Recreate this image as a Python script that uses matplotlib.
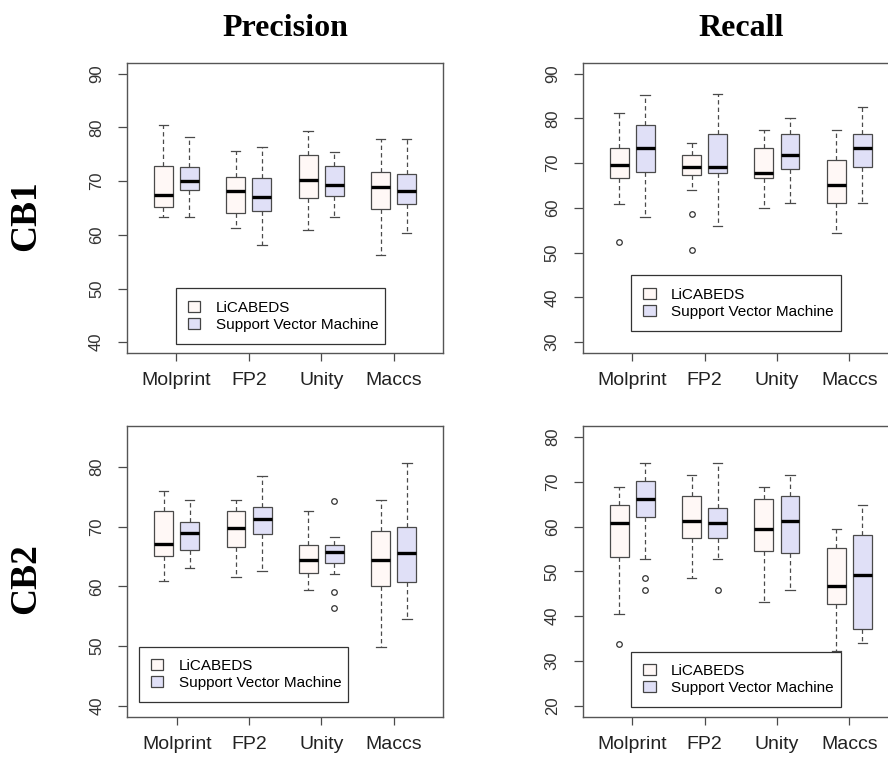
import matplotlib
matplotlib.use("Agg")
import matplotlib.pyplot as plt
from matplotlib.patches import Patch

methods = ["Molprint", "FP2", "Unity", "Maccs"]
series = ["LiCABEDS", "Support Vector Machine"]

# each box: (lower whisker, Q1, median, Q3, upper whisker)
prec_cb1_lic = [[63.3, 65.2, 67.4, 72.8, 80.4], [61.3, 64.1, 68.1, 70.8, 75.7],
                [60.9, 66.8, 70.2, 74.9, 79.3], [56.3, 64.9, 69.0, 71.7, 77.8]]
prec_cb1_svm = [[63.3, 68.3, 70.1, 72.6, 78.2], [58.1, 64.5, 67.0, 70.5, 76.4],
                [63.3, 67.2, 69.3, 72.8, 75.5], [60.4, 65.7, 68.1, 71.4, 77.8]]
prec_cb1_lic_out = [[], [], [], []]
prec_cb1_svm_out = [[], [], [], []]

rec_cb1_lic = [[60.8, 66.8, 69.6, 73.5, 81.2], [64.1, 67.3, 69.2, 71.9, 74.6],
               [60.0, 66.7, 67.9, 73.3, 77.4], [54.5, 61.2, 65.2, 70.7, 77.4]]
rec_cb1_svm = [[58.0, 68.1, 73.5, 78.6, 85.2], [56.0, 67.9, 69.2, 76.5, 85.4],
               [61.2, 68.6, 71.9, 76.5, 80.0], [61.2, 69.2, 73.3, 76.5, 82.6]]
rec_cb1_lic_out = [[52.5], [58.6, 50.6], [], []]
rec_cb1_svm_out = [[], [], [], []]

prec_cb2_lic = [[60.9, 65.0, 67.0, 72.6, 76.0], [61.6, 66.6, 69.7, 72.6, 74.5],
                [59.4, 62.3, 64.4, 66.9, 72.6], [49.9, 60.0, 64.4, 69.3, 74.5]]
prec_cb2_svm = [[63.1, 66.0, 68.9, 70.8, 74.5], [62.6, 68.7, 71.3, 73.2, 78.4],
                [62.1, 63.9, 65.7, 66.9, 68.2], [54.6, 60.8, 65.6, 70.0, 80.6]]
prec_cb2_lic_out = [[], [], [], []]
prec_cb2_svm_out = [[], [], [74.2, 59.1, 56.3], []]

rec_cb2_lic = [[40.4, 53.3, 60.7, 64.8, 68.9], [48.6, 57.5, 61.3, 66.8, 71.5],
               [43.2, 54.6, 59.4, 66.1, 68.9], [32.3, 42.7, 46.7, 55.3, 59.4]]
rec_cb2_svm = [[52.8, 62.1, 66.1, 70.1, 74.2], [52.8, 57.5, 60.7, 64.2, 74.2],
               [45.8, 54.1, 61.3, 66.8, 71.5], [34.1, 37.2, 49.3, 58.1, 64.8]]
rec_cb2_lic_out = [[33.8], [], [], []]
rec_cb2_svm_out = [[48.6, 45.8], [45.8], [], []]

LIC_COLOR = "#fff8f6"
SVM_COLOR = "#e0e0f7"
EDGE = "#4a4a4a"


def make_stats(rows, outliers):
    stats = []
    for (lo, q1, med, q3, hi), fl in zip(rows, outliers):
        stats.append({"whislo": lo, "q1": q1, "med": med, "q3": q3,
                      "whishi": hi, "fliers": fl})
    return stats


def panel(ax, lic, svm, lic_out, svm_out, ylim, yticks, leg_box):
    pos = list(range(1, len(methods) + 1))
    for rows, outs, color, shift in [(lic, lic_out, LIC_COLOR, -0.18),
                                     (svm, svm_out, SVM_COLOR, 0.18)]:
        ax.bxp(make_stats(rows, outs), positions=[p + shift for p in pos],
               widths=0.26, patch_artist=True, manage_ticks=False,
               boxprops=dict(facecolor=color, edgecolor=EDGE, linewidth=0.9),
               medianprops=dict(color="black", linewidth=2.4, solid_capstyle="butt"),
               whiskerprops=dict(color=EDGE, linewidth=0.9, linestyle=(0, (3.5, 2.5))),
               capprops=dict(color=EDGE, linewidth=0.9), capwidths=0.13,
               flierprops=dict(marker="o", markersize=4, markerfacecolor="none",
                               markeredgecolor="#333333", markeredgewidth=0.9))
    ax.set_xlim(0.317, 4.683)
    ax.set_ylim(*ylim)
    ax.set_xticks(pos)
    ax.set_xticklabels(methods, fontsize=14, color="#222222")
    ax.set_yticks(yticks)
    ax.set_yticklabels([str(t) for t in yticks], rotation=90, va="center",
                       fontsize=12, color="#333333")
    ax.tick_params(axis="x", length=6, width=0.9, color=EDGE, pad=8)
    ax.tick_params(axis="y", length=6.5, width=0.9, color=EDGE, pad=10)
    for s in ax.spines.values():
        s.set_color("#555555")
        s.set_linewidth(1.0)
    handles = [Patch(facecolor=LIC_COLOR, edgecolor="#444444", linewidth=0.9),
               Patch(facecolor=SVM_COLOR, edgecolor="#444444", linewidth=0.9)]
    leg = ax.legend(handles, series, loc="lower left", bbox_to_anchor=leg_box,
                    mode="expand", borderaxespad=0, fontsize=11,
                    handlelength=0.8, handleheight=0.7, handletextpad=1.0,
                    labelspacing=0.2, borderpad=0.8, fancybox=False,
                    framealpha=1, edgecolor="#333333")
    leg.get_frame().set_linewidth(0.9)


plt.rcParams["font.family"] = ["Liberation Sans", "DejaVu Sans"]
fig = plt.figure(figsize=(8.88, 7.57), dpi=100)

ax1 = fig.add_axes([0.1430, 0.5337, 0.3559, 0.3831])
ax2 = fig.add_axes([0.6562, 0.5337, 0.3559, 0.3831])
ax3 = fig.add_axes([0.1433, 0.0532, 0.3559, 0.3840])
ax4 = fig.add_axes([0.6562, 0.0532, 0.3559, 0.3840])

panel(ax1, prec_cb1_lic, prec_cb1_svm, prec_cb1_lic_out, prec_cb1_svm_out,
      (38, 92), [40, 50, 60, 70, 80, 90], (0.155, 0.031, 0.661, 0.193))
panel(ax2, rec_cb1_lic, rec_cb1_svm, rec_cb1_lic_out, rec_cb1_svm_out,
      (27.6, 92.4), [30, 40, 50, 60, 70, 80, 90], (0.153, 0.076, 0.664, 0.196))
panel(ax3, prec_cb2_lic, prec_cb2_svm, prec_cb2_lic_out, prec_cb2_svm_out,
      (38.2, 86.8), [40, 50, 60, 70, 80], (0.037, 0.050, 0.662, 0.194))
panel(ax4, rec_cb2_lic, rec_cb2_svm, rec_cb2_lic_out, rec_cb2_svm_out,
      (17.6, 82.4), [20, 30, 40, 50, 60, 70, 80], (0.153, 0.033, 0.664, 0.196))

serif = ["Liberation Serif", "DejaVu Serif"]
fig.text(285 / 888, 1 - 29 / 757, "Precision", ha="center", va="center",
         fontsize=23, fontweight="bold", family=serif)
fig.text(741 / 888, 1 - 29 / 757, "Recall", ha="center", va="center",
         fontsize=23, fontweight="bold", family=serif)
fig.text(26 / 888, 1 - 216 / 757, "CB1", ha="center", va="center", rotation=90,
         fontsize=27, fontweight="bold", family=serif)
fig.text(26 / 888, 1 - 579 / 757, "CB2", ha="center", va="center", rotation=90,
         fontsize=27, fontweight="bold", family=serif)

fig.savefig("out.png", dpi=100)
